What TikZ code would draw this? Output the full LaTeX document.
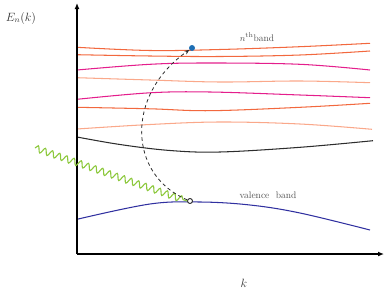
\documentclass[tikz,border=0pt]{standalone}
\usetikzlibrary{arrows.meta,decorations.pathmorphing}
\definecolor{bandorange}{RGB}{242,104,62}
\definecolor{bandpink}{RGB}{228,30,140}
\definecolor{bandsalmon}{RGB}{250,168,138}
\definecolor{banddark}{RGB}{45,45,45}
\definecolor{bandblue}{RGB}{48,48,160}
\definecolor{dotblue}{RGB}{30,110,180}
\definecolor{wavegreen}{RGB}{140,200,60}
\definecolor{txtgray}{RGB}{80,80,80}
\tikzset{
  band/.style={line width=1.05pt, smooth, tension=0.6},
  axisline/.style={line width=1.3pt, black, -{Latex[length=6pt,width=5pt]}},
  lbl/.style={text=txtgray, inner sep=0pt, font=\fontsize{9.5}{11}\selectfont},
}
\begin{document}
\begin{tikzpicture}[x=1pt,y=-1pt]
\useasboundingbox (0,0) rectangle (388,289);
% bands
\draw[band, bandorange] plot coordinates {(77,47.3) (150,50.5) (220,49.5) (300,46.7) (370,43.3)};
\draw[band, bandorange] plot coordinates {(77,54.7) (150,56) (220,56.5) (300,55) (370,51)};
\draw[band, bandpink] plot coordinates {(77,70) (150,64.3) (210,63) (300,64.3) (370,70)};
\draw[band, bandsalmon] plot coordinates {(77,77.7) (150,80) (220,82) (300,81) (370,82.7)};
\draw[band, bandpink] plot coordinates {(77,99.3) (150,92.8) (210,92) (300,95) (370,97.7)};
\draw[band, bandorange] plot coordinates {(77,107.3) (150,108.8) (210,110.7) (300,107.3) (370,103.3)};
\draw[band, bandsalmon] plot coordinates {(77,129) (150,124.5) (220,122) (300,124) (372,129.3)};
\draw[band, banddark] plot coordinates {(77,137) (120,144.5) (170,150.5) (220,152) (300,147.3) (373,140.7)};
\draw[band, bandblue] plot coordinates {(77,219.3) (150,204) (200,202) (250,205) (300,213) (370,230)};
% axes
\coordinate (O) at (77,254);
\coordinate (ytop) at (77,3);
\coordinate (xend) at (384,254);
\draw[axisline] (O) -- (ytop);
\draw[axisline] (O) -- (xend);
% labels
\node[lbl, text=black!80, font=\fontsize{11.5}{13}\selectfont] (elab) at (21,18) {$E_n(k)$};
\node[lbl, text=black!80, font=\fontsize{11.5}{13}\selectfont] (klab) at (244,283) {$k$};
\node[lbl] (nlab) at (257,37) {$n^{\mathrm{th}}$band};
\node[lbl] (vlab) at (268,195) {valence~~band};
% dots
\node[circle, fill=dotblue, inner sep=0pt, minimum size=6pt] (top) at (192,48) {};
\node[circle, draw=banddark, line width=0.9pt, fill=white, inner sep=0pt, minimum size=5pt] (bot) at (190,201) {};
% photon
\coordinate (wstart) at (35,148);
\draw[wavegreen, line width=1.1pt, decorate, decoration={snake, segment length=7.6pt, amplitude=3.2pt, post length=2pt}] (wstart) -- (bot.west);
% transition
\draw[dashed, dash pattern=on 3.5pt off 3pt, line width=0.8pt, banddark, -{Stealth[length=5pt,width=4pt]}] (bot) .. controls (128,175) and (125,95) .. (top);
\end{tikzpicture}
\end{document}
